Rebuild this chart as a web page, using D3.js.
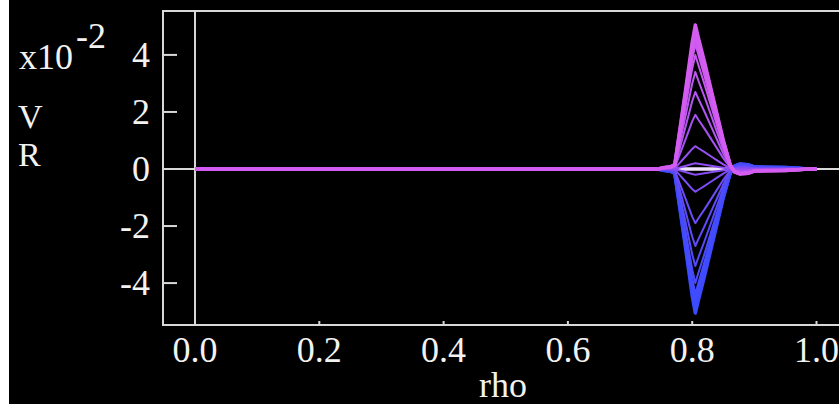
<!DOCTYPE html>
<html>
<head>
<meta charset="utf-8">
<script src="https://cdn.jsdelivr.net/npm/d3@7"></script>
<style>
  html, body { margin: 0; padding: 0; background: #000; }
  #chart { width: 839px; height: 404px; }
  text { font-family: "Liberation Serif", "Times New Roman", serif; fill: #f2f2f2; }
</style>
</head>
<body>
<div id="chart"></div>
<script>
'use strict';

// radial grid and the pulse shape (normalised)
const RHO     = [0, 0.70, 0.745, 0.755, 0.765, 0.772, 0.78, 0.79, 0.80, 0.805, 0.81, 0.82, 0.83, 0.84, 0.85, 0.861, 0.868, 0.877, 0.89, 0.90, 0.92, 0.95, 0.97, 0.985, 1.0];
const PROFILE = [0, 0, 0, 0.01, 0.015, 0.03, 0.27, 0.57, 0.88, 1.0, 0.91, 0.74, 0.56, 0.38, 0.20, 0.03, -0.02, -0.035, -0.03, -0.015, -0.012, -0.01, -0.006, 0, 0];

// snapshot amplitudes of V_R (drawn lowest first, so the top one ends on top)
const AMPS = [-0.0505, -0.0485, -0.045, -0.040, -0.034, -0.027, -0.019, -0.008, -0.002,
              0.002, 0.008, 0.019, 0.027, 0.034, 0.040, 0.045, 0.0485, 0.0505];
const CENTER_AMP = 0;   // the pale near-zero snapshot

const X_TICKS = [0.0, 0.2, 0.4, 0.6, 0.8, 1.0];
const Y_TICKS = [0.04, 0.02, 0, -0.02, -0.04];

const W = 839, H = 404;
const svg = d3.select('#chart').append('svg').attr('width', W).attr('height', H);

svg.append('rect').attr('x', 0).attr('y', 0).attr('width', W).attr('height', H).attr('fill', '#000');
svg.append('rect').attr('x', 0).attr('y', 0).attr('width', 9).attr('height', H).attr('fill', '#fff');

const x = d3.scaleLinear().domain([-0.0515, 1.06]).range([163, 163 + 1.1115 * 621.5]);
const y = d3.scaleLinear().domain([-0.0547, 0.0554]).range([325, 11]);

const AXIS = '#d8d8d8';

// frame (right side falls outside the window)
const [x0, x1] = x.range();
svg.append('path')
  .attr('d', `M${x1},${y(0.0554)}H${x0}V${y(-0.0547)}H${x1}`)
  .attr('fill', 'none').attr('stroke', AXIS).attr('stroke-width', 2);

// zero line and rho = 0 line
svg.append('line')
  .attr('x1', x0).attr('x2', x1).attr('y1', y(0)).attr('y2', y(0))
  .attr('stroke', AXIS).attr('stroke-width', 2);
svg.append('line')
  .attr('x1', x(0)).attr('x2', x(0)).attr('y1', y(0.0554)).attr('y2', y(-0.0547))
  .attr('stroke', AXIS).attr('stroke-width', 2);

// y ticks (inward) and labels
Y_TICKS.forEach(t => {
  svg.append('line')
    .attr('x1', x0).attr('x2', x0 + 14).attr('y1', y(t)).attr('y2', y(t))
    .attr('stroke', AXIS).attr('stroke-width', 2);
  svg.append('text')
    .attr('x', 150).attr('y', y(t)).attr('dy', '0.33em')
    .attr('text-anchor', 'end').attr('font-size', '36px')
    .text(d3.format('d')(t * 100).replace('−', '-'));
});

// x ticks (inward) and labels
X_TICKS.forEach(t => {
  svg.append('line')
    .attr('x1', x(t)).attr('x2', x(t)).attr('y1', y(-0.0547)).attr('y2', y(-0.0547) - 4)
    .attr('stroke', AXIS).attr('stroke-width', 2);
  svg.append('text')
    .attr('x', x(t)).attr('y', 362)
    .attr('text-anchor', 'middle').attr('font-size', '36px')
    .text(d3.format('.1f')(t));
});

svg.append('text').attr('x', 503).attr('y', 397)
  .attr('text-anchor', 'middle').attr('font-size', '36px').text('rho');

// axis title block at top-left
svg.append('text').attr('x', 19).attr('y', 69).attr('font-size', '36px').text('x10');
svg.append('text').attr('x', 76).attr('y', 48).attr('font-size', '36px').text('-2');
svg.append('text').attr('x', 18).attr('y', 128).attr('font-size', '34px').text('V');
svg.append('text').attr('x', 18).attr('y', 166).attr('font-size', '34px').text('R');

// snapshots
const color = d3.scaleLinear()
  .domain([-0.05, 0, 0.05])
  .range(['#3b4bff', '#8a4cf2', '#d45cf0'])
  .clamp(true);

const line = d3.line()
  .x(d => x(d[0]))
  .y(d => y(d[1]));

const series = amp => RHO.map((r, i) => [r, amp * PROFILE[i]]);

svg.append('path')
  .attr('d', line(series(CENTER_AMP)))
  .attr('fill', 'none').attr('stroke', '#efe2ff').attr('stroke-width', 3.5);

svg.append('g')
  .selectAll('path')
  .data(AMPS)
  .join('path')
  .attr('d', a => line(series(a)))
  .attr('fill', 'none')
  .attr('stroke', a => color(a))
  .attr('stroke-width', a => Math.abs(a) > 0.044 ? 3.5 : 2)
  .attr('stroke-linejoin', 'round');
</script>
</body>
</html>
